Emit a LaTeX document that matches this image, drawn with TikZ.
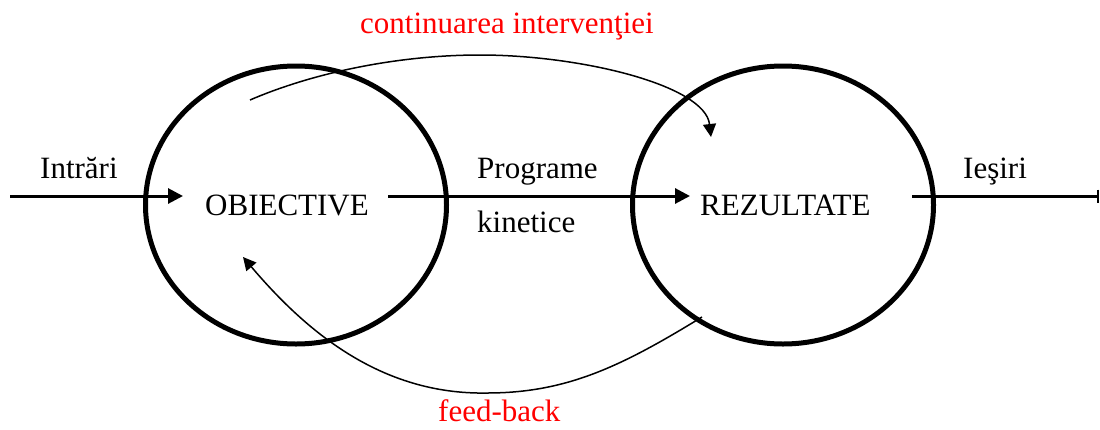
\documentclass[tikz,border=0pt]{standalone}
\usepackage{fontspec}
\setmainfont{Liberation Serif}
\usetikzlibrary{arrows.meta,shapes.geometric}
\begin{document}
\begin{tikzpicture}[x=1pt,y=-1pt,
  lbl/.style={font=\fontsize{31}{36}\selectfont, inner sep=0pt, anchor=base west},
  redlbl/.style={lbl, text=red},
  ring/.style={draw, ellipse, line width=5pt, minimum width=301pt, minimum height=278pt, inner sep=0pt},
  mainarrow/.style={line width=3pt, -{Triangle[length=15pt,width=15pt]}},
  loop/.style={line width=1.5pt, -{Triangle[length=13pt,width=13pt]}}]
\useasboundingbox (0,0) rectangle (1100,429);
% rings
\node[ring] (obj) at (296,205) {};
\node[ring] (rez) at (783,205) {};
% labels
\node[lbl] (intr) at (40,178) {Intrări};
\node[lbl] (objt) at (205,215) {OBIECTIVE};
\node[lbl] (prog) at (477,178) {Programe};
\node[lbl] (kin) at (477,232) {kinetice};
\node[lbl] (rezt) at (700,215) {REZULTATE};
\node[lbl] (ies) at (963,178) {Ieşiri};
\node[redlbl] (cont) at (360,33) {continuarea intervenţiei};
\node[redlbl] (fb) at (438,421) {feed-back};
% connector ends
\coordinate (a1s) at (10,196);
\coordinate (a1e) at (183,196);
\coordinate (a2s) at (388,196);
\coordinate (a2e) at (690,196);
\coordinate (a3s) at (912,196);
\coordinate (a3e) at (1099,196);
\coordinate (cs) at (250,100);
\coordinate (cm) at (480,55);
\coordinate (ce) at (711,137);
\coordinate (fs) at (702,317);
\coordinate (fm) at (487,393);
\coordinate (fe) at (243,257);
% main arrows
\draw[mainarrow] (a1s) -- (a1e);
\draw[mainarrow] (a2s) -- (a2e);
\draw[line width=3pt, -{Bar[width=13pt,line width=2pt]}] (a3s) -- (a3e);
% loops
\draw[loop] (cs) .. controls (315,72) and (400,55) .. (cm)
  .. controls (580,55) and (705,85) .. (ce);
\draw[loop] (fs) .. controls (622,366) and (567,393) .. (fm)
  .. controls (380,395) and (305,330) .. (fe);
\end{tikzpicture}
\end{document}
